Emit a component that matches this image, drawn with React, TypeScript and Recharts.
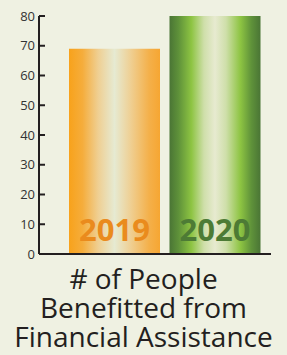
import React from "react";
import { BarChart, Bar, XAxis, YAxis, Cell, LabelList } from "recharts";

const years = ["2019", "2020"];
const peopleBenefitted = [69, 80];
const yTicks = [0, 10, 20, 30, 40, 50, 60, 70, 80];
const titleLines = ["# of People", "Benefitted from", "Financial Assistance"];
const labelColors = ["#ea8b1d", "#4d7b35"];

const data = years.map((y, i) => ({ year: y, value: peopleBenefitted[i] }));

const BG = "#eff1e2";
const INK = "#231f20";

const YTick = (props: any) => {
  const { x, y, payload } = props;
  return (
    <g>
      <line x1={x} x2={x + 6} y1={y} y2={y} stroke={INK} strokeWidth={2} />
      <text
        x={x - 4}
        y={y}
        dy={4.6}
        textAnchor="end"
        fontSize={13}
        fontFamily="'Open Sans', sans-serif"
        fill="#333"
      >
        {payload.value}
      </text>
    </g>
  );
};

const YearLabel = (props: any) => {
  const { x, y, width, height, value, index } = props;
  return (
    <text
      x={x + width / 2}
      y={y + height - 13}
      textAnchor="middle"
      fontSize={31}
      fontWeight={700}
      fontFamily="'Open Sans', sans-serif"
      fill={labelColors[index]}
    >
      {value}
    </text>
  );
};

export default function App() {
  return (
    <div
      style={{
        position: "fixed",
        left: 0,
        top: 0,
        width: 287,
        height: 355,
        background: BG,
        overflow: "hidden",
      }}
    >
      <BarChart
        width={287}
        height={355}
        data={data}
        margin={{ top: 16, right: 16, bottom: 95, left: 0 }}
      >
        <defs>
          <linearGradient id="grad0" x1="0" y1="0" x2="1" y2="0">
            <stop offset="0%" stopColor="#f8a21b" />
            <stop offset="15%" stopColor="#f5ad3c" />
            <stop offset="32%" stopColor="#efcf92" />
            <stop offset="50%" stopColor="#e6ead2" />
            <stop offset="68%" stopColor="#efcf92" />
            <stop offset="88%" stopColor="#f4b04a" />
            <stop offset="100%" stopColor="#f6a632" />
          </linearGradient>
          <linearGradient id="grad1" x1="0" y1="0" x2="1" y2="0">
            <stop offset="0%" stopColor="#4a7535" />
            <stop offset="10%" stopColor="#5f923a" />
            <stop offset="24%" stopColor="#8dc442" />
            <stop offset="38%" stopColor="#cfdfaa" />
            <stop offset="50%" stopColor="#e7ead0" />
            <stop offset="62%" stopColor="#cfdfaa" />
            <stop offset="78%" stopColor="#8dc442" />
            <stop offset="90%" stopColor="#5f923a" />
            <stop offset="100%" stopColor="#4a7535" />
          </linearGradient>
        </defs>
        <XAxis
          dataKey="year"
          tick={false}
          tickLine={false}
          height={6}
          padding={{ left: 25, right: 6 }}
          axisLine={{ stroke: INK, strokeWidth: 2 }}
        />
        <YAxis
          width={39}
          domain={[0, 80]}
          ticks={yTicks}
          interval={0}
          tickSize={0}
          tickMargin={0}
          tickLine={false}
          axisLine={{ stroke: INK, strokeWidth: 2 }}
          tick={<YTick />}
        />
        <Bar dataKey="value" barSize={91} isAnimationActive={false}>
          {data.map((d, i) => (
            <Cell key={d.year} fill={`url(#grad${i})`} />
          ))}
          <LabelList dataKey="year" content={<YearLabel />} />
        </Bar>
      </BarChart>
      <svg
        width={287}
        height={355}
        style={{ position: "absolute", left: 0, top: 0, pointerEvents: "none" }}
      >
        {titleLines.map((t, i) => (
          <text
            key={t}
            x={143.5}
            y={289 + i * 28.8}
            textAnchor="middle"
            fontSize={28}
            fontFamily="'Open Sans', sans-serif"
            fill={INK}
          >
            {t}
          </text>
        ))}
      </svg>
    </div>
  );
}
